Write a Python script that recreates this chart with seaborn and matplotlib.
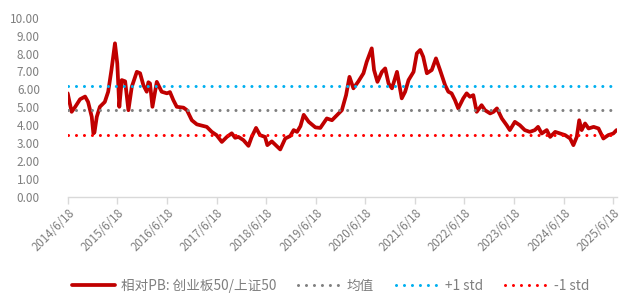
import matplotlib
matplotlib.use("Agg")
import matplotlib.pyplot as plt
import seaborn as sns
import pandas as pd

dates = [
    "2014-06-18", "2014-07-01", "2014-07-17", "2014-08-10", "2014-09-17", "2014-10-24",
    "2014-11-15", "2014-12-12", "2014-12-24", "2015-01-01", "2015-01-18", "2015-02-10",
    "2015-03-18", "2015-04-12", "2015-05-06", "2015-06-01", "2015-06-18", "2015-07-03",
    "2015-07-21", "2015-08-15", "2015-09-08", "2015-10-03", "2015-11-09", "2015-12-03",
    "2015-12-27", "2016-01-21", "2016-02-02", "2016-02-14", "2016-03-03", "2016-04-04",
    "2016-05-10", "2016-06-18", "2016-07-10", "2016-08-04", "2016-08-29", "2016-10-18",
    "2016-11-12", "2016-12-18", "2017-01-24", "2017-02-18", "2017-04-07", "2017-05-14",
    "2017-06-18", "2017-07-27", "2017-09-02", "2017-10-08", "2017-11-02", "2017-11-26",
    "2018-01-02", "2018-02-08", "2018-03-04", "2018-04-05", "2018-05-04", "2018-06-10",
    "2018-06-27", "2018-07-30", "2018-09-10", "2018-09-30", "2018-11-06", "2018-12-13",
    "2019-01-07", "2019-02-01", "2019-02-26", "2019-03-22", "2019-04-28", "2019-06-16",
    "2019-07-22", "2019-09-08", "2019-10-16", "2019-11-21", "2019-12-28", "2020-01-28",
    "2020-02-22", "2020-03-22", "2020-04-28", "2020-06-04", "2020-06-28", "2020-08-04",
    "2020-08-21", "2020-09-15", "2020-10-18", "2020-11-11", "2020-12-06", "2020-12-31",
    "2021-02-06", "2021-03-13", "2021-04-07", "2021-05-02", "2021-06-08", "2021-07-02",
    "2021-07-27", "2021-08-18", "2021-09-14", "2021-10-20", "2021-11-20", "2021-12-20",
    "2022-01-26", "2022-02-19", "2022-03-15", "2022-04-09", "2022-05-03", "2022-06-09",
    "2022-07-04", "2022-07-28", "2022-08-22", "2022-09-16", "2022-10-22", "2022-11-16",
    "2022-12-24", "2023-01-18", "2023-02-12", "2023-03-20", "2023-04-25", "2023-05-18",
    "2023-06-24", "2023-07-31", "2023-09-05", "2023-10-12", "2023-11-18", "2023-12-12",
    "2024-01-08", "2024-02-14", "2024-03-10", "2024-04-16", "2024-05-22", "2024-06-28",
    "2024-08-04", "2024-08-28", "2024-09-22", "2024-10-10", "2024-10-28", "2024-11-22",
    "2024-12-18", "2025-01-24", "2025-03-01", "2025-04-06", "2025-05-12", "2025-06-18",
    "2025-07-12",
]
values = [
    5.78, 5.30, 4.75, 5.00, 5.45, 5.60,
    5.30, 4.47, 3.54, 3.60, 4.47, 5.03,
    5.30, 5.87, 7.08, 8.57, 7.45, 5.03,
    6.52, 6.45, 4.84, 6.15, 6.98, 6.90,
    6.24, 5.87, 6.40, 6.33, 5.03, 6.42,
    5.87, 5.78, 5.85, 5.40, 5.03, 4.98,
    4.84, 4.28, 4.05, 4.00, 3.91, 3.63,
    3.45, 3.07, 3.35, 3.55, 3.30, 3.35,
    3.17, 2.85, 3.35, 3.85, 3.45, 3.35,
    2.89, 3.10, 2.80, 2.65, 3.26, 3.40,
    3.73, 3.63, 3.95, 4.58, 4.19, 3.88,
    3.85, 4.38, 4.28, 4.56, 4.84, 5.68,
    6.70, 6.06, 6.45, 6.90, 7.54, 8.29,
    7.08, 6.42, 6.98, 7.17, 6.33, 6.06,
    6.98, 5.50, 5.87, 6.52, 6.98, 8.01,
    8.20, 7.82, 6.90, 7.08, 7.73, 7.08,
    6.24, 5.87, 5.78, 5.40, 4.94, 5.50,
    5.78, 5.59, 5.68, 4.75, 5.12, 4.84,
    4.66, 4.75, 4.94, 4.38, 4.00, 3.73,
    4.19, 4.00, 3.73, 3.63, 3.73, 3.91,
    3.54, 3.73, 3.35, 3.63, 3.54, 3.45,
    3.26, 2.89, 3.35, 4.28, 3.73, 4.10,
    3.82, 3.91, 3.82, 3.26, 3.45, 3.54,
    3.73,
]
mean_val = 4.85
plus_std = 6.20
minus_std = 3.47

tick_dates = ["2014-06-18", "2015-06-18", "2016-06-18", "2017-06-18", "2018-06-18",
              "2019-06-18", "2020-06-18", "2021-06-18", "2022-06-18", "2023-06-18",
              "2024-06-18", "2025-06-18"]
tick_labels = ["2014/6/18", "2015/6/18", "2016/6/18", "2017/6/18", "2018/6/18",
               "2019/6/18", "2020/6/18", "2021/6/18", "2022/6/18", "2023/6/18",
               "2024/6/18", "2025/6/18"]
y_ticks = [0, 1, 2, 3, 4, 5, 6, 7, 8, 9, 10]

series_label = "相对PB: 创业板50/上证50"
mean_label = "均值"
plus_label = "+1 std"
minus_label = "-1 std"

sns.set_theme(style="white")
plt.rcParams["font.family"] = ["Noto Sans CJK SC", "DejaVu Sans"]

df = pd.DataFrame({"date": pd.to_datetime(dates), "value": values})

fig = plt.figure(figsize=(6.27, 3.03), dpi=100)
ax = fig.add_axes([0.108, 0.35, 0.876, 0.5916])

gray_txt = "#7f7f7f"
sns.lineplot(data=df, x="date", y="value", ax=ax, color="#C00000", linewidth=2.7,
             label=series_label, legend=False)

dot_lw = 2.2
for yv, col, lab in [(mean_val, "#808080", mean_label),
                     (plus_std, "#00B0F0", plus_label),
                     (minus_std, "#FF0000", minus_label)]:
    ax.axhline(yv, color=col, linewidth=dot_lw, linestyle=(0, (0.01, 2.6)),
               dash_capstyle="round", label=lab)

ax.set_ylim(0, 10)
ax.set_xlim(pd.Timestamp("2014-06-18"), pd.Timestamp("2025-07-15"))
ax.set_yticks(y_ticks)
ax.set_yticklabels([f"{v:.2f}" for v in y_ticks], color=gray_txt, fontsize=8.5)
ax.set_xticks(pd.to_datetime(tick_dates))
ax.set_xticklabels(tick_labels, rotation=45, ha="right", rotation_mode="anchor",
                   color=gray_txt, fontsize=8.3)
ax.set_xlabel("")
ax.set_ylabel("")

for s in ["left", "right", "top"]:
    ax.spines[s].set_visible(False)
ax.spines["bottom"].set_color("#d9d9d9")
ax.spines["bottom"].set_linewidth(1.0)
ax.tick_params(axis="x", which="major", bottom=True, length=5, color="#d9d9d9",
               width=1.0, pad=2)
ax.tick_params(axis="y", left=False, pad=14)
ax.grid(False)

handles, labels = ax.get_legend_handles_labels()
leg = fig.legend(handles, labels, loc="center", bbox_to_anchor=(0.527, 0.056), ncol=4,
                 frameon=False, fontsize=9.8, handlelength=3.2, columnspacing=1.6,
                 handletextpad=0.4)
for t in leg.get_texts():
    t.set_color(gray_txt)

fig.savefig("out.png", dpi=100)
